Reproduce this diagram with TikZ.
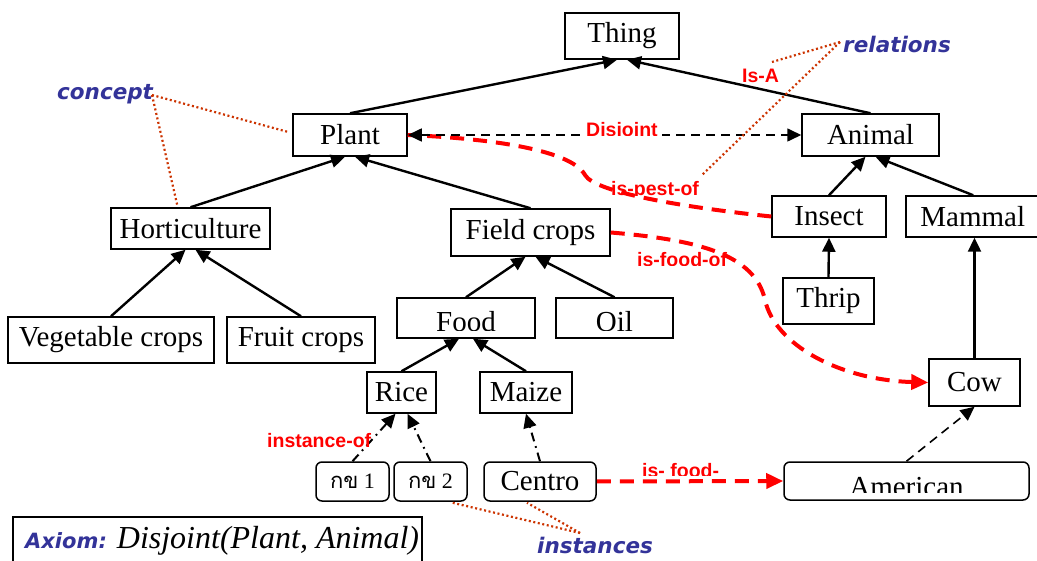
\documentclass[tikz,border=0pt]{standalone}
\usepackage{fontspec}
\setmainfont{Liberation Serif}
\newfontfamily\lsans{Liberation Sans}
\newfontfamily\dsans{DejaVu Sans}
\newfontfamily\thaifont[Script=Thai]{Loma}
\usetikzlibrary{arrows.meta,calc}
\definecolor{lblue}{HTML}{333399}
\definecolor{dotred}{HTML}{CC3300}
\tikzset{
  box/.style={draw, line width=1.5pt, inner sep=0pt, font=\fontsize{29}{30}\selectfont},
  rbox/.style={box, rounded corners=6pt},
  isa/.style={line width=2.4pt, -{Triangle[length=14pt,width=13pt]}},
  inst/.style={line width=2pt, dash pattern=on 9pt off 5pt on 1.8pt off 5pt, -{Triangle[length=14pt,width=13pt]}},
  rel/.style={red, line width=4pt, dash pattern=on 14pt off 9pt},
  relarrow/.style={rel, -{Triangle[length=17pt,width=15pt]}},
  bdash/.style={line width=1.6pt, dash pattern=on 9pt off 6pt},
  note/.style={dotred, line width=2.2pt, dash pattern=on 2pt off 2.6pt},
  rlab/.style={text=red, font=\lsans\bfseries\fontsize{19.5}{20}\selectfont, inner sep=0pt},
  blab/.style={text=lblue, font=\dsans\bfseries\itshape\fontsize{21.5}{22}\selectfont, inner sep=0pt},
  ttext/.style={inner sep=0pt, font=\fontsize{29}{30}\selectfont},
}
\begin{document}
\begin{tikzpicture}[x=1pt,y=-1pt]
\useasboundingbox (0,0) rectangle (1037,561);

% concept nodes
\node[box, minimum width=114pt, minimum height=46pt] (thing) at (622,36) {Thing};
\node[box, minimum width=114pt, minimum height=42pt] (plant) at (350,135) {Plant};
\node[box, minimum width=137pt, minimum height=42pt] (animal) at (870.5,135) {Animal};
\node[box, minimum width=159pt, minimum height=41pt] (hort) at (190.5,228.5) {Horticulture};
\node[box, minimum width=159pt, minimum height=47pt] (field) at (530.5,232.5) {Field crops};
\node[box, minimum width=114pt, minimum height=41pt] (insect) at (829,216.5) {Insect};
\node[box, minimum width=137pt, minimum height=41pt, anchor=west] (mammal) at (905,216.5) {\hspace*{-3pt}Mammal};
\node[box, minimum width=206pt, minimum height=46pt] (veg) at (111,340) {Vegetable crops};
\node[box, minimum width=148pt, minimum height=46pt] (fruit) at (301,340) {Fruit crops};
\node[box, minimum width=138pt, minimum height=40pt] (food) at (466,318) {};
\node[box, minimum width=117pt, minimum height=40pt] (oil) at (614.5,318) {};
\node[box, minimum width=91pt, minimum height=46pt] (thrip) at (828.5,301) {Thrip};
\node[box, minimum width=69pt, minimum height=41pt] (rice) at (401.5,392.5) {Rice};
\node[box, minimum width=92pt, minimum height=41pt] (maize) at (526,392.5) {Maize};
\node[box, minimum width=91pt, minimum height=47pt] (cow) at (974.5,382.5) {Cow};

% instance nodes
\node[rbox, minimum width=73pt, minimum height=39pt] (k1) at (352.5,481.5) {\fontsize{22}{23}\selectfont{\thaifont กข} 1};
\node[rbox, minimum width=73pt, minimum height=39pt] (k2) at (430.5,481.5) {\fontsize{22}{23}\selectfont{\thaifont กข} 2};
\node[rbox, minimum width=112pt, minimum height=39pt] (centro) at (540,481.5) {Centro};
\node[rbox, minimum width=245pt, minimum height=38pt] (american) at (906.5,481) {};

% clipped texts
\begin{scope}
\clip (398,299) rectangle (534,330.5);
\node[ttext, anchor=base] (foodt) at (466,332) {Food};
\end{scope}
\begin{scope}
\clip (557,299) rectangle (672,330.5);
\node[ttext, anchor=base] (oilt) at (614.5,332) {Oil};
\end{scope}
\begin{scope}
\clip (785,463) rectangle (1028,492);
\node[ttext, anchor=base] (americant) at (906.5,496) {American};
\end{scope}

% is-a edges
\draw[isa] (plant.north) -- ($(thing.south)+(-5,0)$);
\draw[isa] (animal.north) -- ($(thing.south)+(5,0)$);
\draw[isa] (hort.north) -- ($(plant.south)+(-5,0)$);
\draw[isa] (field.north) -- ($(plant.south)+(5,0)$);
\draw[isa] (insect.north) -- ($(animal.south)+(-5,0)$);
\draw[isa] ($(mammal.north)+(-1,0)$) -- ($(animal.south)+(5,0)$);
\draw[isa] (veg.north) -- ($(hort.south)+(-5,0)$);
\draw[isa] (fruit.north) -- ($(hort.south)+(5,0)$);
\draw[isa] (food.north) -- ($(field.south)+(-5,0)$);
\draw[isa] (oil.north) -- ($(field.south)+(5,0)$);
\draw[isa] (rice.north) -- ($(food.south)+(-7,0)$);
\draw[isa] (maize.north) -- ($(food.south)+(7,0)$);
\draw[isa] (thrip.north) -- (insect.south);
\draw[isa] (cow.north) -- (cow.north |- mammal.south);

% instance-of edges
\draw[inst] (k1.north) -- ($(rice.south)+(-6,0)$);
\draw[inst] (k2.north) -- ($(rice.south)+(6,0)$);
\draw[inst] (centro.north) -- (maize.south);
\draw[bdash, -{Triangle[length=14pt,width=13pt]}] (american.north) -- (cow.south);

% relations
\draw[rel] (insect.west) .. controls (690,208) and (595,193) .. (585,175)
  .. controls (570,148) and (480,138) .. (plant.east);
\draw[bdash, {Triangle[length=14pt,width=13pt]}-{Triangle[length=14pt,width=13pt]}] (plant.east) -- (animal.west);
\draw[relarrow] (field.east) .. controls (700,240) and (755,255) .. (765,300)
  .. controls (775,345) and (840,380) .. (cow.west);
\draw[relarrow] (centro.east) -- (american.west);

% relation labels
\fill[white] (583,118) rectangle (662,137.5);
\begin{scope}
\clip (580,110) rectangle (666,135.5);
\node[rlab, anchor=base west] (disj) at (586,137) {Disjoint};
\end{scope}
\begin{scope}
\clip (605,170) rectangle (710,195.5);
\node[rlab, anchor=base west] (pest) at (611,196) {is-pest-of};
\end{scope}
\begin{scope}
\clip (630,245) rectangle (735,265.5);
\node[rlab, anchor=base west] (foodof) at (637,267) {is-food-of};
\end{scope}
\begin{scope}
\clip (636,455) rectangle (725,475.5);
\node[rlab, anchor=base west] (foodof2) at (642,477) {is- food-};
\end{scope}
\node[rlab, anchor=base west] (isa) at (742,83) {Is-A};
\node[rlab, anchor=base west] (instof) at (267,447) {instance-of};

% annotation labels
\node[blab, anchor=base west] (concept) at (57,100) {concept};
\node[blab, anchor=base west] (relations) at (843,53) {relations};
\node[blab, anchor=base west] (instances) at (537,553) {instances};
\coordinate (cpt) at (152,95);
\coordinate (rel) at (840,42);
\coordinate (ins) at (580,533);
\coordinate (isaend) at (772,62);
\coordinate (pestend) at (702,175);
\draw[note] (cpt) -- ($(plant.west)+(-4,-3)$);
\draw[note] (cpt) -- ($(hort.north)+(-13,-1)$);
\draw[note] (rel) -- (isaend);
\draw[note] (rel) -- (pestend);
\draw[note] (ins) -- ($(k2.south)+(22,1)$);
\draw[note] (ins) -- ($(centro.south)+(-13,1)$);

% axiom
\node[draw, line width=1.5pt, minimum width=409pt, minimum height=60pt, inner sep=0pt, anchor=north west] (axbox) at (12,516) {};
\node[anchor=base west, inner sep=0pt] (axiom) at (25,548)
  {\textcolor{lblue}{\dsans\bfseries\itshape\fontsize{21}{22}\selectfont Axiom:}\hspace{10pt}{\fontsize{32}{33}\selectfont\itshape Disjoint(Plant, Animal)}};
\end{tikzpicture}
\end{document}
